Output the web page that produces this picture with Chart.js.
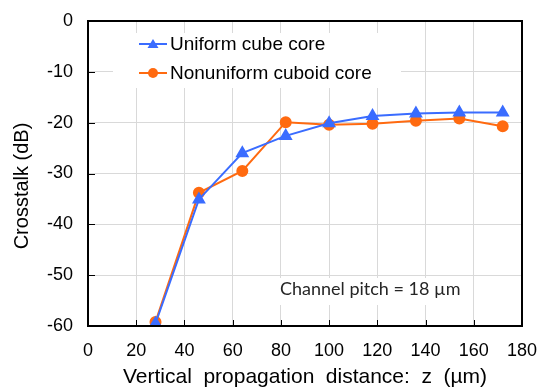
<!DOCTYPE html>
<html><head><meta charset="utf-8">
<script src="https://cdn.jsdelivr.net/npm/chart.js@4"></script>
<style>html,body{margin:0;padding:0;background:#fff}#wrap{width:539px;height:390px;position:relative}</style>
</head><body><div id="wrap"><canvas id="c" width="539" height="390"></canvas></div>
<script>
const zValues = [28, 46, 64, 82, 100, 118, 136, 154, 172];
const uniformCube = [-59.5, -35.1, -26.0, -22.6, -20.1, -18.7, -18.2, -18.0, -18.0];
const nonuniformCuboid = [-59.2, -33.8, -29.5, -19.9, -20.4, -20.2, -19.6, -19.2, -20.7];
const seriesNames = ["Uniform cube core", "Nonuniform cuboid core"];
const xTitle = "Vertical propagation distance: z (µm)";
const yTitle = "Crosstalk (dB)";
const note = "Channel pitch = 18 µm";

const BLUE = "#3a6cff", ORANGE = "#ff6a10";
const FONT = "'Liberation Sans', Arial, sans-serif";
const pts = (ys) => zValues.map((x, i) => ({x, y: ys[i]}));

const overlay = {
  id: "overlay",
  beforeDatasetsDraw(chart) {
    const {ctx, chartArea: a, scales: {x, y}} = chart;
    ctx.save();
    ctx.fillStyle = "#fff";
    ctx.fillRect(113, 33, 288, 55);
    ctx.fillRect(270, 278, 200, 27);
    ctx.strokeStyle = "#000"; ctx.lineWidth = 1;
    ctx.beginPath();
    for (let v = -50; v < 0; v += 10) { const py = Math.round(y.getPixelForValue(v)) + 0.5; ctx.moveTo(a.left, py); ctx.lineTo(a.left + 7, py); }
    for (let v = 20; v < 180; v += 20) { const px = Math.round(x.getPixelForValue(v)) + 0.5; ctx.moveTo(px, a.bottom); ctx.lineTo(px, a.bottom - 6); }
    ctx.stroke();
    ctx.restore();
  },
  afterDraw(chart) {
    const {ctx, chartArea: a} = chart;
    ctx.save();
    ctx.strokeStyle = "#000"; ctx.lineWidth = 2;
    ctx.strokeRect(a.left, a.top, a.right - a.left, a.bottom - a.top);
    const ds = chart.data.datasets;
    const rows = [44, 73];
    ds.forEach((d, i) => {
      const yy = rows[i];
      ctx.strokeStyle = d.borderColor; ctx.lineWidth = 2;
      ctx.beginPath(); ctx.moveTo(139, yy); ctx.lineTo(167, yy); ctx.stroke();
      ctx.fillStyle = d.backgroundColor;
      ctx.beginPath();
      if (d.pointStyle === "triangle") { ctx.moveTo(153, yy - 5); ctx.lineTo(158.5, yy + 4); ctx.lineTo(147.5, yy + 4); ctx.closePath(); }
      else { ctx.arc(153, yy, 5, 0, Math.PI * 2); }
      ctx.fill();
      ctx.fillStyle = "#000"; ctx.font = "19px " + FONT;
      ctx.textBaseline = "middle"; ctx.textAlign = "left";
      ctx.fillText(d.label, 170, yy + 1);
    });
    ctx.font = "18px Lato, 'Open Sans', sans-serif";
    ctx.fillStyle = "#262626"; ctx.textBaseline = "middle";
    ctx.fillText(note, 280, 289);
    ctx.font = "21px " + FONT; ctx.fillStyle = "#000";
    ctx.textBaseline = "alphabetic"; ctx.textAlign = "left";
    const w = ctx.measureText(xTitle).width;
    const target = 364, nSp = xTitle.split(" ").length - 1;
    if ("wordSpacing" in ctx && w < target) ctx.wordSpacing = ((target - w) / nSp) + "px";
    const w2 = ctx.measureText(xTitle).width;
    ctx.fillText(xTitle, (a.left + a.right) / 2 - w2 / 2, 383);
    if ("wordSpacing" in ctx) ctx.wordSpacing = "0px";
    ctx.translate(28, 186); ctx.rotate(-Math.PI / 2);
    ctx.textAlign = "center"; ctx.textBaseline = "alphabetic";
    ctx.font = "20px " + FONT;
    ctx.fillText(yTitle, 0, 0);
    ctx.restore();
  }
};

new Chart(document.getElementById("c"), {
  type: "scatter",
  data: { datasets: [
    { label: seriesNames[0], data: pts(uniformCube), showLine: true, borderColor: BLUE, backgroundColor: BLUE, borderWidth: 2, pointStyle: "triangle", pointRadius: 6, pointHoverRadius: 6 },
    { label: seriesNames[1], data: pts(nonuniformCuboid), showLine: true, borderColor: ORANGE, backgroundColor: ORANGE, borderWidth: 2, pointStyle: "circle", pointRadius: 5, pointHoverRadius: 5 }
  ]},
  options: {
    responsive: false, animation: false, devicePixelRatio: 1,
    layout: { padding: { top: 21, right: 17, left: 0, bottom: 0 } },
    plugins: { legend: { display: false }, tooltip: { enabled: false } },
    scales: {
      x: { type: "linear", min: 0, max: 180,
        afterFit: s => { s.height = 64; s.paddingLeft = 0; s.paddingRight = 0; },
        ticks: { stepSize: 20, color: "#000", padding: 14, font: { size: 18, family: FONT } },
        grid: { color: "#d9d9d9", drawTicks: false }, border: { display: false },
        title: { display: false }
      },
      y: { min: -60, max: 0,
        afterFit: s => { s.width = 88; s.paddingTop = 0; s.paddingBottom = 0; },
        ticks: { stepSize: 10, color: "#000", padding: 15, font: { size: 18, family: FONT } },
        grid: { color: "#d9d9d9", drawTicks: false }, border: { display: false }
      }
    }
  },
  plugins: [overlay]
});
</script></body></html>
